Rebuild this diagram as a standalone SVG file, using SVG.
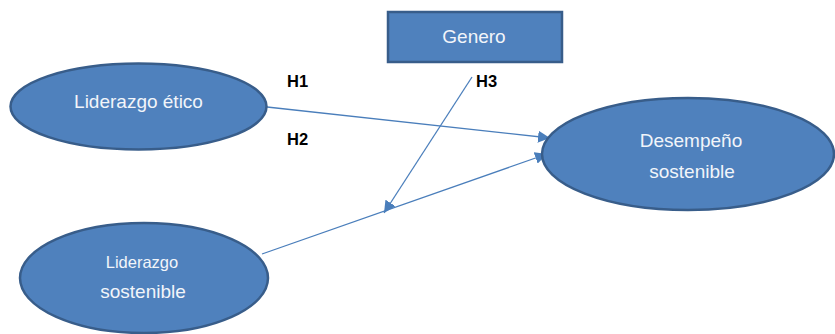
<svg xmlns="http://www.w3.org/2000/svg" width="835" height="334" viewBox="0 0 835 334">
<style>
.node{fill:#4F81BD;stroke:#385D8A;stroke-width:2.5}
.lbl{fill:#F2F5FA;font-family:"Liberation Sans",Arial,sans-serif;text-anchor:middle}
.h{fill:#000;font-family:"Liberation Sans",Arial,sans-serif;font-weight:bold;font-size:16.5px}
.edge{stroke:#4A7EBB;stroke-width:1.3;fill:none;marker-end:url(#arr)}
</style>
<defs>
<marker id="arr" markerUnits="userSpaceOnUse" markerWidth="14" markerHeight="12" refX="12" refY="6" orient="auto">
<path d="M0,0 L12,6 L0,12 z" fill="#4A7EBB"/>
</marker>
</defs>
<rect width="835" height="334" fill="#fff"/>
<g id="connectors">
<line class="edge" x1="267" y1="107" x2="550" y2="138"/>
<line class="edge" x1="262" y1="254" x2="547" y2="154"/>
<line class="edge" x1="472" y1="77" x2="384" y2="213"/>
</g>
<g id="genero">
<rect class="node" x="388" y="12" width="174" height="50"/>
<text class="lbl" x="474" y="43" font-size="19">Genero</text>
</g>
<g id="liderazgo-etico">
<ellipse class="node" cx="138.5" cy="106.5" rx="128" ry="43"/>
<text class="lbl" x="138.5" y="108" font-size="19">Liderazgo ético</text>
</g>
<g id="desempeno">
<ellipse class="node" cx="688" cy="154" rx="146" ry="56"/>
<text class="lbl" x="691" y="147" font-size="19">Desempeño</text>
<text class="lbl" x="692" y="178" font-size="19">sostenible</text>
</g>
<g id="liderazgo-sostenible">
<ellipse class="node" cx="144" cy="278" rx="124" ry="55"/>
<text class="lbl" x="142" y="268" font-size="16.5">Liderazgo</text>
<text class="lbl" x="143" y="298" font-size="19">sostenible</text>
</g>
<g id="labels">
<text class="h" x="287" y="87">H1</text>
<text class="h" x="287" y="145">H2</text>
<text class="h" x="476" y="87">H3</text>
</g>
</svg>
